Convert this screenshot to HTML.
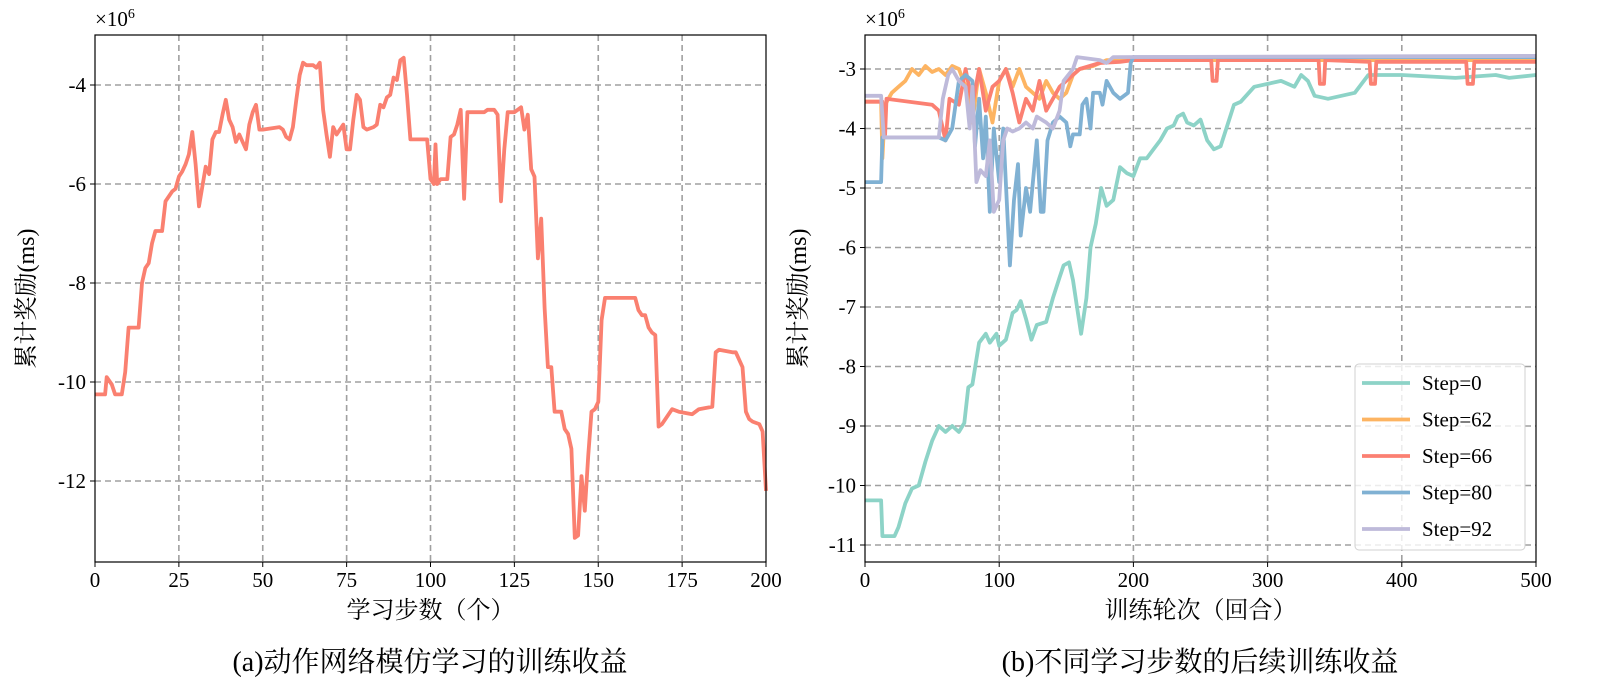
<!DOCTYPE html>
<html><head><meta charset="utf-8"><style>
html,body{margin:0;padding:0;background:#fff;width:1600px;height:700px;overflow:hidden}
svg text{font-family:"Liberation Serif","Noto Serif CJK SC","Noto Sans CJK SC",serif;fill:#000}
</style></head><body>
<svg id="chart" width="1600" height="700" viewBox="0 0 1600 700" xmlns="http://www.w3.org/2000/svg"></svg>
<script>
// ---- Data: left chart ----
const leftX = [0,3,3.5,5,6,8,9,10,13,14,15,16,17,18,20,21,23,24,25,26,27,28,29,30,31,33,34,35,36,37,38,39,40,41,42,43,44,45,46,47,48,49,50,55,56,57,58,59,60,61,62,63,65,66,67,68,69,70,71,72,73,74,75,76,77,78,79,80,81,83,84,85,86,87,88,89,90,91,92,93,94,99,100,101,101.5,102,103,105,106,107,108,109,110,111,116,117,119,120,121,122,123,125,126,127,128,129,130,131,132,133,134,135,136,137,139,140,141,142,143,144,145,146,147,148,149,150,151,152,161,162,163,164,165,166,167,168,169,170,171,172,174,178,180,184,185,186,190,191,193,194,195,196,198,199,200];
const leftY = [-10.25,-10.25,-9.9,-10.05,-10.25,-10.25,-9.8,-8.9,-8.9,-8.0,-7.7,-7.6,-7.2,-6.95,-6.95,-6.35,-6.15,-6.1,-5.85,-5.75,-5.6,-5.4,-4.95,-5.6,-6.45,-5.65,-5.8,-5.1,-4.95,-4.95,-4.6,-4.3,-4.7,-4.85,-5.15,-5.0,-5.15,-5.3,-4.8,-4.55,-4.4,-4.9,-4.9,-4.85,-4.9,-5.05,-5.1,-4.85,-4.3,-3.8,-3.55,-3.6,-3.6,-3.65,-3.55,-4.5,-5.0,-5.45,-4.85,-5.0,-4.9,-4.8,-5.3,-5.3,-4.7,-4.2,-4.3,-4.85,-4.9,-4.85,-4.8,-4.4,-4.45,-4.25,-4.2,-3.85,-3.9,-3.5,-3.45,-4.2,-5.1,-5.1,-5.9,-6.0,-5.2,-6.0,-5.9,-5.9,-5.05,-5.0,-4.8,-4.5,-6.3,-4.55,-4.55,-4.5,-4.5,-4.6,-6.35,-5.3,-4.55,-4.55,-4.5,-4.45,-4.9,-4.6,-5.7,-5.85,-7.5,-6.7,-8.5,-9.7,-9.7,-10.6,-10.6,-10.95,-11.05,-11.35,-13.15,-13.1,-11.9,-12.6,-11.5,-10.6,-10.55,-10.4,-8.75,-8.3,-8.3,-8.55,-8.65,-8.65,-8.9,-9.0,-9.05,-10.9,-10.85,-10.75,-10.65,-10.55,-10.6,-10.65,-10.55,-10.5,-9.4,-9.35,-9.4,-9.4,-9.7,-10.6,-10.75,-10.8,-10.85,-11.0,-12.2];
const leftXTicks = [0,25,50,75,100,125,150,175,200];
const leftYTicks = [-4,-6,-8,-10,-12];

// ---- Data: right chart ----
const s0X = [0,12,13,22,25,30,35,40,45,50,55,60,65,70,74,77,80,85,90,93,98,100,105,110,113,116,120,124,128,135,140,145,148,152,155,158,161,165,168,172,176,180,185,190,195,200,205,210,215,220,225,230,233,237,240,245,250,255,260,265,270,275,280,290,300,310,320,325,330,335,345,355,365,375,400,440,470,480,500];
const s0Y = [-10.25,-10.25,-10.85,-10.85,-10.7,-10.3,-10.05,-10.0,-9.6,-9.25,-9.0,-9.1,-9.0,-9.1,-8.95,-8.35,-8.3,-7.6,-7.45,-7.6,-7.45,-7.65,-7.55,-7.1,-7.05,-6.9,-7.2,-7.55,-7.3,-7.25,-6.85,-6.5,-6.3,-6.25,-6.55,-7.0,-7.45,-6.85,-6.0,-5.6,-5.0,-5.3,-5.2,-4.65,-4.75,-4.8,-4.5,-4.5,-4.35,-4.2,-4.0,-3.95,-3.8,-3.75,-3.9,-3.95,-3.85,-4.2,-4.35,-4.3,-3.95,-3.6,-3.55,-3.3,-3.25,-3.2,-3.3,-3.1,-3.2,-3.45,-3.5,-3.45,-3.4,-3.1,-3.1,-3.15,-3.1,-3.15,-3.1];
const s62X = [0,12,13,15,20,25,30,35,40,45,50,55,60,65,70,75,80,85,90,95,100,105,110,115,120,125,130,135,140,145,150,155,160,170,180,190,200,300,400,500];
const s62Y = [-3.55,-3.55,-4.5,-3.6,-3.4,-3.3,-3.2,-3.0,-3.1,-2.95,-3.05,-3.0,-3.1,-2.95,-3.0,-3.3,-3.9,-3.0,-3.4,-3.9,-3.2,-3.0,-3.3,-3.0,-3.3,-3.4,-3.5,-3.2,-3.4,-3.5,-3.4,-3.1,-3.0,-2.95,-2.85,-2.85,-2.85,-2.85,-2.85,-2.85];
const s66X = [0,13,14,15,16,50,55,60,63,70,75,80,85,90,95,100,105,110,115,120,125,130,135,140,145,160,175,190,200,258,259,262,263,338,339,342,343,376,377,380,381,448,449,453,454,500];
const s66Y = [-3.55,-3.55,-4.1,-4.1,-3.5,-3.6,-3.7,-4.2,-3.5,-3.6,-3.0,-3.6,-3.0,-3.7,-3.3,-3.2,-3.0,-3.4,-3.9,-3.5,-3.7,-3.2,-3.7,-3.5,-3.3,-3.0,-2.9,-2.88,-2.85,-2.85,-3.2,-3.2,-2.85,-2.85,-3.25,-3.25,-2.85,-2.88,-3.25,-3.25,-2.88,-2.88,-3.25,-3.25,-2.88,-2.88];
const s80X = [0,12,13,55,60,65,70,75,80,82,85,88,90,93,96,100,103,108,111,114,116,120,123,128,131,133,136,140,145,150,153,155,160,162,165,168,170,175,177,180,185,190,196,198,200,500];
const s80Y = [-4.9,-4.9,-4.15,-4.15,-4.2,-4.0,-3.2,-3.1,-3.2,-4.3,-3.5,-4.5,-3.8,-5.4,-4.0,-4.9,-4.0,-6.3,-5.2,-4.6,-5.8,-5.0,-5.4,-4.2,-5.4,-5.4,-4.2,-3.9,-3.8,-3.9,-4.3,-4.1,-4.1,-3.6,-3.5,-4.0,-3.4,-3.4,-3.6,-3.2,-3.4,-3.5,-3.4,-2.9,-2.8,-2.8];
const s92X = [0,12,14,55,58,62,65,70,75,78,80,83,86,90,93,96,100,103,106,110,115,120,125,128,135,140,145,148,155,158,175,180,185,500];
const s92Y = [-3.45,-3.45,-4.15,-4.15,-3.5,-3.1,-3.0,-3.2,-3.3,-4.0,-3.3,-4.9,-4.7,-4.8,-4.2,-5.4,-5.2,-4.2,-4.0,-4.05,-4.0,-3.9,-4.0,-3.8,-3.9,-4.0,-3.7,-3.2,-3.0,-2.8,-2.85,-2.9,-2.8,-2.78];
const rightXTicks = [0,100,200,300,400,500];
const rightYTicks = [-3,-4,-5,-6,-7,-8,-9,-10,-11];
const legendLabels = ["Step=0","Step=62","Step=66","Step=80","Step=92"];
const seriesColors = ["#8dd3c7","#fdb462","#fb8072","#80b1d3","#bebada"];

const NS="http://www.w3.org/2000/svg";
const svg=document.getElementById('chart');
function mk(tag,attrs,parent){const e=document.createElementNS(NS,tag);for(const k in attrs)e.setAttribute(k,attrs[k]);(parent||svg).appendChild(e);return e;}

function drawPanel(p){
  const g=mk('g',{});
  
  
  const sx=v=>p.x0+(v-p.xmin)/(p.xmax-p.xmin)*(p.x1-p.x0);
  const sy=v=>p.yA+(v-p.vA)*(p.yB-p.yA)/(p.vB-p.vA);
  p.xt.forEach(t=>{if(t===p.xmin||t===p.xmax)return;const l=mk('line',{x1:sx(t),x2:sx(t),y1:p.y0,y2:p.y1,stroke:'#a0a0a0','stroke-width':1.6,'stroke-dasharray':'6,4'},g);
    });
  p.yt.forEach(t=>{const l=mk('line',{x1:p.x0,x2:p.x1,y1:sy(t),y2:sy(t),stroke:'#a0a0a0','stroke-width':1.6,'stroke-dasharray':'6,4'},g);
    });
  p.series.forEach((s,i)=>{
    const d=s.xs.map((x,j)=>(j?'L':'M')+sx(x).toFixed(1)+','+sy(s.ys[j]).toFixed(1)).join('');
    const path=mk('path',{d:d,fill:'none',stroke:s.color,'stroke-width':3.8,'stroke-linejoin':'round'},g);
    
    
  });
  const fr=mk('rect',{x:p.x0,y:p.y0,width:p.x1-p.x0,height:p.y1-p.y0,fill:'none',stroke:'#000','stroke-width':1.2},g);
  
  p.xt.forEach(t=>{mk('line',{x1:sx(t),x2:sx(t),y1:p.y1,y2:p.y1+5,stroke:'#000'},g);
    const tx=mk('text',{x:sx(t),y:p.y1+25,'text-anchor':'middle','font-size':21},g);tx.textContent=t;
    });
  p.yt.forEach(t=>{mk('line',{x1:p.x0-5,x2:p.x0,y1:sy(t),y2:sy(t),stroke:'#000'},g);
    const tx=mk('text',{x:p.x0-9,y:sy(t)+7,'text-anchor':'end','font-size':21},g);tx.textContent=t;
    });
  const m=mk('text',{x:p.x0,y:p.y0-9,'font-size':21},g);
  m.innerHTML='×10<tspan dy="-8" font-size="14">6</tspan>';
  
  const xl=mk('text',{x:(p.x0+p.x1)/2,y:618,'text-anchor':'middle','font-size':24},g);xl.textContent=p.xlabel;
  
  const yl=mk('text',{x:0,y:0,'text-anchor':'middle','font-size':24,transform:`translate(${p.ylx},${(p.y0+p.y1)/2}) rotate(-90)`},g);yl.textContent='累计奖励(ms)';
  
  const ti=mk('text',{x:p.tx,y:671,'text-anchor':'middle','font-size':28},g);ti.textContent=p.title;
  
  return {g,sx,sy};
}

drawPanel({name:'left-panel',x0:95,x1:766,y0:35,y1:562,xmin:0,xmax:200,vA:-4,yA:85,vB:-12,yB:481,
  xt:leftXTicks,yt:leftYTicks,xlabel:'学习步数（个）',ylx:34,tx:430,title:'(a)动作网络模仿学习的训练收益',
  series:[{xs:leftX,ys:leftY,color:'#fa8070',name:'imitation-reward-line'}]});

drawPanel({name:'right-panel',x0:865,x1:1536,y0:35,y1:562,xmin:0,xmax:500,vA:-3,yA:69,vB:-11,yB:545,
  xt:rightXTicks,yt:rightYTicks,xlabel:'训练轮次（回合）',ylx:806,tx:1200,title:'(b)不同学习步数的后续训练收益',
  series:[
    {xs:s0X,ys:s0Y,color:seriesColors[0],name:'step-0-line'},
    {xs:s62X,ys:s62Y,color:seriesColors[1],name:'step-62-line'},
    {xs:s66X,ys:s66Y,color:seriesColors[2],name:'step-66-line'},
    {xs:s80X,ys:s80Y,color:seriesColors[3],name:'step-80-line'},
    {xs:s92X,ys:s92Y,color:seriesColors[4],name:'step-92-line'}]});

const lg=mk('g',{});


mk('rect',{x:1355,y:364,width:170,height:186,rx:4,fill:'rgba(255,255,255,0.8)',stroke:'#d0d0d0','stroke-width':1},lg);
legendLabels.forEach((lab,i)=>{
  const y=383+i*36.5;
  const e=mk('g',{},lg);
  
  
  mk('line',{x1:1362,x2:1410,y1:y,y2:y,stroke:seriesColors[i],'stroke-width':3.8},e);
  const t=mk('text',{x:1422,y:y+7,'font-size':21},e);t.textContent=lab;
});
</script>
</body></html>
